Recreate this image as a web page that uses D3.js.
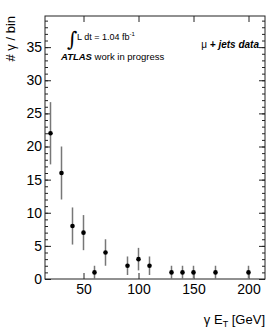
<!DOCTYPE html>
<html>
<head>
    <style>
        body { margin: 0; background: #fff; }
        svg text { font-family: "Liberation Sans", Arial, sans-serif; }
        .axis path, .axis line { stroke: #222; }
        .axis text { font-size: 14px; fill: #000; }
    </style>
    <script src="https://d3js.org/d3.v7.min.js"></script>
</head>
<body>
    <svg width="279" height="332"></svg>
    <script>
        // photon ET bin centres (GeV), counts and errors
        var photonEt = [20, 30, 40, 50, 60, 70, 90, 100, 110, 130, 140, 150, 170, 200];
        var counts = [22, 16, 8, 7, 1, 4, 2, 3, 2, 1, 1, 1, 1, 1];
        var errors = [4.7, 4.0, 2.8, 2.65, 1.0, 2.0, 1.4, 1.7, 1.4, 1.0, 1.0, 1.0, 1.0, 1.0];
        var xTicks = [50, 100, 150, 200];
        var yTicks = [0, 5, 10, 15, 20, 25, 30, 35];

        var svg = d3.select("svg");
        var plotL = 45, plotR = 265, plotT = 16, plotB = 279;

        var x = d3.scaleLinear().domain([15, 215]).range([plotL, plotR]);
        var y = d3.scaleLinear().domain([0, 39.7]).range([plotB, plotT]);

        var yMinor = d3.range(0, 40, 1);

        // left axis
        svg.append("g").attr("class", "axis")
            .attr("transform", "translate(" + plotL + ",0)")
            .call(d3.axisLeft(y).tickValues(yMinor).tickSize(-3).tickFormat(""))
            .select(".domain").remove();
        svg.append("g").attr("class", "axis")
            .attr("transform", "translate(" + plotL + ",0)")
            .call(d3.axisLeft(y).tickValues(yTicks).tickSizeInner(-6).tickSizeOuter(0).tickPadding(3))
            .select(".domain").remove();

        // right axis
        svg.append("g").attr("class", "axis")
            .attr("transform", "translate(" + plotR + ",0)")
            .call(d3.axisRight(y).tickValues(yMinor).tickSize(-3).tickFormat(""))
            .select(".domain").remove();
        svg.append("g").attr("class", "axis")
            .attr("transform", "translate(" + plotR + ",0)")
            .call(d3.axisRight(y).tickValues(yTicks).tickSize(-6).tickFormat(""))
            .select(".domain").remove();

        // bottom and top axes
        svg.append("g").attr("class", "axis")
            .attr("transform", "translate(0," + plotB + ")")
            .call(d3.axisBottom(x).tickValues(xTicks).tickSizeInner(-6).tickSizeOuter(0).tickPadding(5))
            .select(".domain").remove();
        svg.append("g").attr("class", "axis")
            .attr("transform", "translate(0," + plotT + ")")
            .call(d3.axisTop(x).tickValues(xTicks).tickSize(-6).tickFormat(""))
            .select(".domain").remove();

        svg.selectAll(".axis text").style("font-size", "14px").style("font-family", "Liberation Sans");
        svg.selectAll(".axis line").attr("stroke", "#222");

        // frame
        svg.append("rect")
            .attr("x", plotL).attr("y", plotT)
            .attr("width", plotR - plotL).attr("height", plotB - plotT)
            .attr("fill", "none").attr("stroke", "#222").attr("stroke-width", 1);

        var pts = photonEt.map(function (d, i) {
            return { e: d, n: counts[i], err: errors[i] };
        });

        svg.append("g").selectAll("line")
            .data(pts).enter().append("line")
            .attr("x1", function (d) { return x(d.e); })
            .attr("x2", function (d) { return x(d.e); })
            .attr("y1", function (d) { return y(Math.max(0, d.n - d.err)); })
            .attr("y2", function (d) { return y(d.n + d.err); })
            .attr("stroke", "#777").attr("stroke-width", 1.5);

        svg.append("g").selectAll("circle")
            .data(pts).enter().append("circle")
            .attr("cx", function (d) { return x(d.e); })
            .attr("cy", function (d) { return y(d.n); })
            .attr("r", 2.3).attr("fill", "#000");

        // axis titles
        svg.append("text")
            .attr("transform", "translate(15," + plotT + ") rotate(-90)")
            .attr("text-anchor", "end")
            .style("font-size", "13px")
            .text("# \u03b3 / bin");

        var xt = svg.append("text")
            .attr("x", plotR).attr("y", 324)
            .attr("text-anchor", "end")
            .style("font-size", "13px");
        xt.append("tspan").text("\u03b3 E");
        xt.append("tspan").attr("dy", 3).style("font-size", "9px").text("T");
        xt.append("tspan").attr("dy", -3).text(" [GeV]");

        // labels
        svg.append("text")
            .attr("x", 67).attr("y", 46)
            .style("font-size", "20px").style("font-family", "DejaVu Serif")
            .text("\u222b");
        var lum = svg.append("text").attr("x", 77).attr("y", 40).style("font-size", "9px");
        lum.append("tspan").text("L dt = 1.04 fb");
        lum.append("tspan").attr("dy", -4).style("font-size", "6px").text("-1");

        var atl = svg.append("text").attr("x", 61).attr("y", 60).style("font-size", "9.5px");
        atl.append("tspan").style("font-weight", "bold").style("font-style", "italic").text("ATLAS");
        atl.append("tspan").text(" work in progress");

        var mu = svg.append("text").attr("x", 259).attr("y", 48)
            .attr("text-anchor", "end").style("font-size", "10px");
        mu.append("tspan").text("\u03bc ");
        mu.append("tspan").style("font-weight", "bold").style("font-style", "italic").text("+ jets data");
    </script>
</body>
</html>
